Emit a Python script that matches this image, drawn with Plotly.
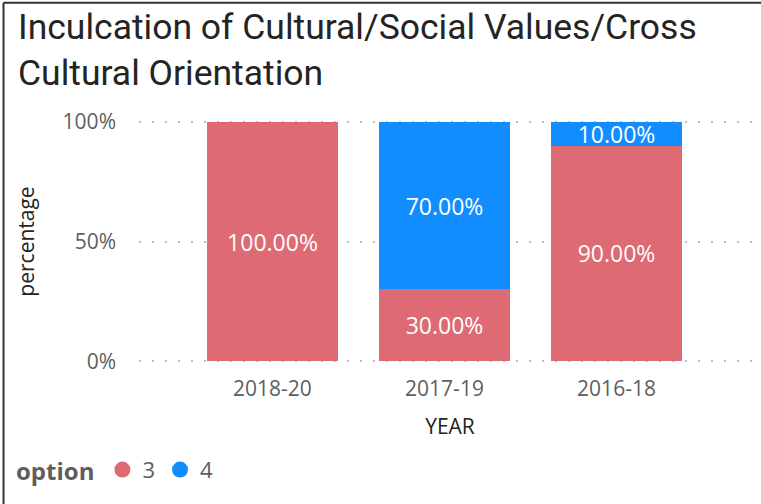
import plotly.graph_objects as go

years = ["2018-20", "2017-19", "2016-18"]
option_3 = [100.0, 30.0, 90.0]
option_4 = [None, 70.0, 10.0]
series_names = ["3", "4"]
y_ticks = [0, 50, 100]
y_tick_labels = ["0%", "50%", "100%"]
title_text = "Inculcation of Cultural/Social Values/Cross<br>Cultural Orientation"

RED = "#DE6A73"
BLUE = "#118DFF"
UI = "Open Sans, Noto Sans, sans-serif"

fig = go.Figure()
for name, vals, col in [(series_names[0], option_3, RED), (series_names[1], option_4, BLUE)]:
    fig.add_trace(go.Bar(
        x=years, y=vals, name=name, marker=dict(color=col, line=dict(width=0)),
        texttemplate="%{y:.2f}%", textposition="inside", insidetextanchor="middle",
        constraintext="none", textangle=0,
        textfont=dict(family=UI, size=23, color="white"),
        showlegend=False, hoverinfo="x+y+name",
    ))
    # legend proxy with circle marker
    fig.add_trace(go.Scatter(
        x=[None], y=[None], mode="markers", name=name,
        marker=dict(color=col, size=20, symbol="circle"), showlegend=True,
    ))

# plot frame: 0% at y=361px, 100% at y=122px, y range padded so edge grid lines draw
PAD = 1.5
Y0, Y100 = 361, 122
unit = (Y0 - Y100) / 100.0
L = 139
T = Y100 - PAD * unit
B = 504 - (Y0 + PAD * unit)
PW, PH = 761 - L, 504 - T - B

def px(x):
    return (x - L) / PW

def py(y):
    return (504 - B - y) / PH

fig.update_layout(
    width=761, height=504,
    barmode="stack", bargap=0.238,
    paper_bgcolor="white", plot_bgcolor="white",
    margin=dict(l=L, r=0, t=T, b=B, autoexpand=False),
    annotations=[dict(
        text=title_text, xref="paper", yref="paper", x=px(16), y=py(5),
        xanchor="left", yanchor="top", align="left", showarrow=False,
        font=dict(family="Roboto, sans-serif", size=35.5, color="#252423"),
    )],
    xaxis=dict(
        range=[-0.776, 2.84], showgrid=False, zeroline=False, showline=False,
        ticks="", tickfont=dict(family=UI, size=21, color="#605E5C"),
        ticklabelstandoff=9,
        title=dict(text="YEAR", font=dict(family=UI, size=21, color="#252423"), standoff=18),
        fixedrange=True,
    ),
    yaxis=dict(
        range=[-PAD, 100 + PAD], tickvals=y_ticks, ticktext=y_tick_labels,
        showgrid=True, gridcolor="#BEBEBE", gridwidth=2, griddash="2px,11px",
        zeroline=False, showline=False, ticks="",
        tickfont=dict(family=UI, size=21, color="#605E5C"),
        ticklabelstandoff=22,
        title=dict(text="percentage", font=dict(family=UI, size=21, color="#252423"), standoff=22),
        fixedrange=True,
    ),
    legend=dict(
        orientation="h", x=px(14), xanchor="left", y=py(469), yanchor="middle",
        traceorder="normal",
        title=dict(text="<b>option</b>", font=dict(family=UI, size=24, color="#605E5C")),
        font=dict(family=UI, size=22, color="#605E5C"),
        itemwidth=30, tracegroupgap=0,
    ),
    shapes=[
        dict(type="line", xref="paper", yref="paper", x0=px(3.5), x1=px(761),
             y0=py(3.5), y1=py(3.5), line=dict(color="#333333", width=2)),
        dict(type="line", xref="paper", yref="paper", x0=px(3.5), x1=px(3.5),
             y0=py(3.5), y1=py(504), line=dict(color="#333333", width=2)),
    ],
)

fig.write_html("out.html", config={"displayModeBar": False},
               post_script="document.body.style.margin='0';document.body.style.overflow='hidden';")
